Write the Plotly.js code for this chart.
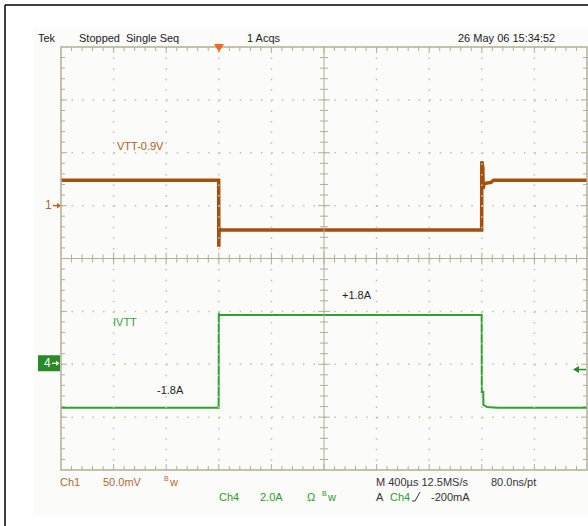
<!DOCTYPE html>
<html>
<head>
<meta charset="utf-8">
<script src="https://cdn.plot.ly/plotly-3.0.1.min.js"></script>
<style>html,body{margin:0;padding:0;background:#fff;}#chart{width:588px;height:526px;}</style>
</head>
<body>
<div id="chart"></div>
<script>
// ---- Data read from the scope capture ----
// Ch1: VTT - 0.9V, in mV, time in microseconds (400 us/div, 10 div)
const ch1TimeUs = [0, 1199, 1200, 1202, 1206, 1215, 3199, 3200, 3208, 3210, 3218, 3270, 3290, 4000];
const ch1mV     = [24, 24, -39, -21, -23, -23, -23, 42, 36, 16, 21, 22, 24, 24];
// Ch4: IVTT, in A
const ch4TimeUs = [0, 1199, 1200, 1202, 1212, 3199, 3200, 3211, 3212, 3240, 3320, 4000];
const ch4Amps   = [-1.65, -1.65, 1.93, 1.88, 1.86, 1.86, -1.05, -1.05, -1.54, -1.62, -1.65, -1.65];

// Channel scale settings (per division) and marker positions (divisions from centre)
const ch1ScaleMv = 50, ch1MarkerDiv = 1;
const ch4ScaleA = 2, ch4MarkerDiv = -2;
const timeScaleUs = 400;

// Labels
const headerLabels = ["Tek", "Stopped", "Single Seq", "1 Acqs", "26 May 06 15:34:52"];
const traceLabels = ["VTT-0.9V", "IVTT", "+1.8A", "-1.8A"];

// ---- Geometry of the graticule (pixels) ----
const W = 588, H = 526;
const L = 61, R = 587, T = 47, B = 470;
const PW = R - L, PH = B - T;
const divX = PW / 10, divY = PH / 8;
const px = x => (x - L) / PW;
const py = y => (B - y) / PH;

const tan = '#b3ae94';
const dotc = '#c4c0aa';
const shapes = [];
function seg(x0, y0, x1, y1, color, width, dash) {
  shapes.push({type: 'line', xref: 'paper', yref: 'paper', x0: px(x0), y0: py(y0), x1: px(x1), y1: py(y1),
    line: {color: color, width: width, dash: dash || 'solid'}, layer: 'above'});
}
// background shade (very faint)
shapes.push({type: 'rect', xref: 'paper', yref: 'paper', x0: px(34), x1: px(588), y0: py(28), y1: py(515),
  fillcolor: '#fbfbfa', line: {width: 0}, layer: 'below'});
// outer black border (left + top)
seg(5, 5, 5, 526, '#000', 1.5);
seg(5, 5, 588, 5, '#000', 1.5);

// dotted division lines
const mx = divX / 5, my = divY / 5;
for (let i = 1; i < 10; i++) {
  if (i === 5) continue;
  const x = L + i * divX;
  seg(x, T, x, B, dotc, 1.5, '1.5px,' + (my - 1.5).toFixed(3) + 'px');
}
for (let j = 1; j < 8; j++) {
  if (j === 4) continue;
  const y = T + j * divY;
  seg(L, y, R, y, dotc, 1.5, '1.5px,' + (mx - 1.5).toFixed(3) + 'px');
}
// centre cross
const cx = L + 5 * divX, cy = T + 4 * divY;
seg(cx, T, cx, B, tan, 1);
seg(L, cy, R, cy, tan, 1);
for (let k = 1; k < 50; k++) {
  const x = L + k * mx;
  const major = k % 5 === 0;
  const h = major ? 6 : 4;
  seg(x, cy - h, x, cy + h, tan, 1);
  seg(x, T, x, T + (major ? 6 : 4), tan, 1);
  seg(x, B, x, B - (major ? 6 : 4), tan, 1);
}
for (let k = 1; k < 40; k++) {
  const y = T + k * my;
  const major = k % 5 === 0;
  const h = major ? 6 : 4;
  seg(cx - h, y, cx + h, y, tan, 1);
  seg(L, y, L + (major ? 6 : 4), y, tan, 1);
  seg(R, y, R - (major ? 6 : 4), y, tan, 1);
}
// graticule frame
shapes.push({type: 'rect', xref: 'paper', yref: 'paper', x0: 0, x1: 1, y0: 0, y1: 1,
  line: {color: tan, width: 1.5}, layer: 'above'});

// trigger position marker (top, orange)
function path(pts, fill) {
  const d = pts.map((p, i) => (i ? 'L' : 'M') + px(p[0]).toFixed(5) + ',' + py(p[1]).toFixed(5)).join(' ') + ' Z';
  shapes.push({type: 'path', xref: 'paper', yref: 'paper', path: d, fillcolor: fill, line: {width: 0}, layer: 'above'});
}
path([[214, 44], [224, 44], [219, 52]], '#f26a21');

// Ch1 ground marker "1 ->"
const brown = '#a4500c';
const ch1Y = cy - ch1MarkerDiv * divY;
seg(53, ch1Y, 58, ch1Y, '#b8662a', 1.5);
path([[57, ch1Y - 3], [61, ch1Y], [57, ch1Y + 3]], '#b8662a');
// Ch4 marker box
const ch4Y = cy - ch4MarkerDiv * divY;
shapes.push({type: 'rect', xref: 'paper', yref: 'paper', x0: px(38), x1: px(60), y0: py(ch4Y - 9), y1: py(ch4Y + 7),
  fillcolor: '#2a8a2a', line: {width: 0}, layer: 'above'});
seg(52, ch4Y - 1, 57, ch4Y - 1, '#fff', 1.2);
path([[56, ch4Y - 3.5], [59.5, ch4Y - 1], [56, ch4Y + 1.5]], '#fff');
// trigger level arrow (right, green)
const trigY = ch4Y + 0.1 * divY;
seg(578, trigY, 586, trigY, '#2a8a2a', 1.5);
path([[573, trigY], [579, trigY - 3.5], [579, trigY + 3.5]], '#2a8a2a');
// rising-slope symbol in status line
seg(412, 501, 415, 501, '#333', 1);
seg(415, 501, 420, 492, '#333', 1);

// ---- annotations ----
const font = 'Liberation Sans, Arial, sans-serif';
const anns = [];
function txt(text, x, y, color, size) {
  anns.push({text: text, xref: 'paper', yref: 'paper', x: px(x), y: py(y), xanchor: 'left', yanchor: 'middle',
    showarrow: false, font: {family: font, size: size || 11, color: color || '#222'}, borderpad: 0});
}
txt(headerLabels[0], 37, 38);
txt(headerLabels[1], 78, 38);
txt(headerLabels[2], 125, 38);
txt(headerLabels[3], 246, 38);
txt(headerLabels[4], 457, 38);
txt(traceLabels[0], 116, 146, '#b05a18');
txt(traceLabels[1], 112, 322, '#3a9d3a');
txt(traceLabels[2], 341, 295);
txt(traceLabels[3], 156, 390);
txt('1', 44, 205, '#b8662a', 12);
txt('4', 43, ch4Y - 1, '#ffffff', 12);
// status line
const chBrown = '#b26a34', chGreen = '#2f9a2f';
txt('Ch1', 59, 482, chBrown);
txt('50.0mV', 102, 482, chBrown);
txt('B', 163, 478, chBrown, 7);
txt('w', 168, 482, chBrown);
txt('Ch4', 218, 497, chGreen);
txt('2.0A', 259, 497, chGreen);
txt('Ω', 306, 497, chGreen);
txt('B', 321, 493, chGreen, 7);
txt('w', 326, 497, chGreen);
txt('M 400µs 12.5MS/s', 375, 482, '#333');
txt('80.0ns/pt', 490, 482, '#333');
txt('A', 375, 497, '#333');
txt('Ch4', 389, 497, chGreen);
txt('-200mA', 430, 497, '#333');

const traces = [
  {x: ch1TimeUs, y: ch1mV, type: 'scatter', mode: 'lines', yaxis: 'y',
   line: {color: brown, width: 3.5, shape: 'linear'}, hoverinfo: 'skip'},
  {x: ch4TimeUs, y: ch4Amps, type: 'scatter', mode: 'lines', yaxis: 'y2',
   line: {color: '#2ea12e', width: 2}, hoverinfo: 'skip'}
];
const ch1Range = [(-4 - ch1MarkerDiv) * ch1ScaleMv, (4 - ch1MarkerDiv) * ch1ScaleMv];
const ch4Range = [(-4 - ch4MarkerDiv) * ch4ScaleA, (4 - ch4MarkerDiv) * ch4ScaleA];
const layout = {
  width: W, height: H,
  margin: {l: L, r: W - R, t: T, b: H - B, pad: 0},
  paper_bgcolor: '#ffffff', plot_bgcolor: '#ffffff',
  showlegend: false,
  xaxis: {range: [0, 10 * timeScaleUs], visible: false, fixedrange: true},
  yaxis: {range: ch1Range, visible: false, fixedrange: true},
  yaxis2: {range: ch4Range, visible: false, overlaying: 'y', fixedrange: true},
  shapes: shapes,
  annotations: anns
};
Plotly.newPlot('chart', traces, layout, {staticPlot: true, displayModeBar: false});
</script>
</body>
</html>
